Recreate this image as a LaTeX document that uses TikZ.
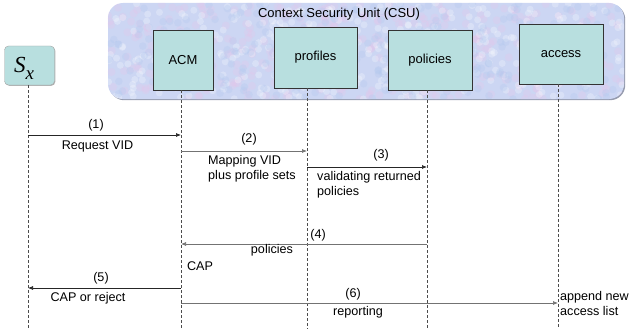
\documentclass[tikz,border=0pt]{standalone}
\usepackage{fontspec}
\setmainfont{Liberation Sans}
\newfontfamily\serifit{Liberation Serif}
\usetikzlibrary{arrows.meta,shadows}
\definecolor{boxfill}{HTML}{B8DFDF}
\definecolor{csufill}{HTML}{CCD6F3}
\definecolor{csuedge}{HTML}{959BAE}
\definecolor{speckpink}{HTML}{E4C6EA}
\definecolor{speckblue}{HTML}{B2C8EE}
\begin{document}
\begin{tikzpicture}[x=1pt,y=-1pt,
  lbl/.style={font=\fontsize{12.6}{15}\selectfont, inner sep=0pt},
  entity/.style={draw=black!80, fill=boxfill, line width=0.8pt, inner sep=0pt,
    font=\fontsize{13}{15}\selectfont},
  life/.style={draw=black!70, line width=0.8pt, dash pattern=on 3pt off 2pt},
  msg/.style={-{Latex[length=5pt,width=4pt]}, line width=0.7pt, draw=black!85},
  msglight/.style={msg, draw=black!55}
]
\useasboundingbox (0,0) rectangle (629,329);

% Context Security Unit container with a mottled fill
\node[fill=csufill, rounded corners=15pt, minimum width=516pt, minimum height=96pt,
  inner sep=0pt, drop shadow={shadow xshift=1.2pt, shadow yshift=-1.2pt, fill=csuedge, opacity=1}]
  (csu) at (366,51) {};
\begin{scope}
  \clip[rounded corners=15pt] (csu.north west) rectangle (csu.south east);
  \pgfmathsetseed{7}
  \foreach \i in {1,...,380}{
    \pgfmathsetmacro\px{108+516*rnd}
    \pgfmathsetmacro\py{3+96*rnd}
    \fill[speckpink, opacity=0.3] (\px,\py) circle (4pt);
  }
  \foreach \i in {1,...,380}{
    \pgfmathsetmacro\px{108+516*rnd}
    \pgfmathsetmacro\py{3+96*rnd}
    \fill[white, opacity=0.25] (\px,\py) circle (3.5pt);
  }
  \foreach \i in {1,...,260}{
    \pgfmathsetmacro\px{108+516*rnd}
    \pgfmathsetmacro\py{3+96*rnd}
    \fill[speckblue, opacity=0.3] (\px,\py) circle (3.8pt);
  }
\end{scope}
\node[lbl, font=\fontsize{13}{15}\selectfont] (csut) at (339,14) {Context Security Unit (CSU)};

% entities
\node[draw=black!35, fill=boxfill, rounded corners=4pt, minimum width=50pt, minimum height=39pt,
  inner sep=0pt, drop shadow={shadow xshift=0.8pt, shadow yshift=-0.8pt, fill=black!30, opacity=1}]
  (sx) at (29.5,65.5) {};
\node[inner sep=0pt, anchor=base west] (sxt) at (14,73)
  {\fontsize{23}{23}\serifit\itshape S\raisebox{-0.28em}{\fontsize{19}{19}\selectfont x}};
\node[entity, minimum width=60pt, minimum height=60pt] (acm) at (183,60) {ACM};
\node[entity, minimum width=83pt, minimum height=61pt] (pro) at (315.5,57.5) {profiles};
\node[entity, minimum width=84pt, minimum height=60pt] (pol) at (430,60) {policies};
\node[entity, minimum width=84pt, minimum height=60pt] (acc) at (561,54) {access};

% lifelines
\coordinate (lsx) at (28,85);   \coordinate (bsx) at (28,329);
\coordinate (lacm) at (181,90); \coordinate (bacm) at (181,329);
\coordinate (lpro) at (307,88); \coordinate (bpro) at (307,329);
\coordinate (lpol) at (427,90); \coordinate (bpol) at (427,329);
\coordinate (lacc) at (558,84); \coordinate (bacc) at (558,329);
\draw[life] (lsx) -- (bsx);
\draw[life] (lacm) -- (bacm);
\draw[life] (lpro) -- (bpro);
\draw[life] (lpol) -- (bpol);
\draw[life] (lacc) -- (bacc);

% messages
\draw[msg] (lsx |- 0,135) -- (lacm |- 0,135);
\draw[msglight] (lacm |- 0,151) -- (lpro |- 0,151);
\draw[msg] (lpro |- 0,167) -- (lpol |- 0,167);
\draw[msglight] (lpol |- 0,244) -- (lacm |- 0,244);
\draw[msg] (lacm |- 0,288) -- (lsx |- 0,288);
\draw[msglight] (lacm |- 0,303) -- (lacc |- 0,303);

% message labels
\node[lbl] (n1) at (96,125) {(1)};
\node[lbl] (t1) at (97.5,146) {Request VID};
\node[lbl] (n2) at (249,139) {(2)};
\node[lbl, align=left, anchor=west] (t2) at (208,168.5) {Mapping VID\\plus profile sets};
\node[lbl] (n3) at (381,155) {(3)};
\node[lbl, align=left, anchor=west] (t3) at (317,185) {validating returned\\policies};
\node[lbl] (n4) at (318,235) {(4)};
\node[lbl] (t4) at (272,250) {policies};
\node[lbl] (t4b) at (200,266) {CAP};
\node[lbl] (n5) at (101,278) {(5)};
\node[lbl] (t5) at (88,298) {CAP or reject};
\node[lbl] (n6) at (353,294) {(6)};
\node[lbl] (t6) at (358,312) {reporting};
\node[lbl, align=left, anchor=west] (t6b) at (560,303.5) {append new\\access list};
\end{tikzpicture}
\end{document}
